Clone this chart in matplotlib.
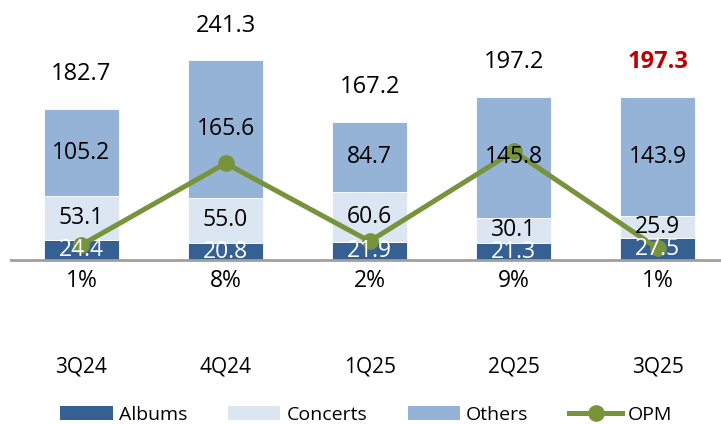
import matplotlib
matplotlib.use("Agg")
import matplotlib.pyplot as plt
from matplotlib.patches import Patch
from matplotlib.lines import Line2D

plt.rcParams['font.family'] = ['Open Sans', 'DejaVu Sans']

quarters = ["3Q24", "4Q24", "1Q25", "2Q25", "3Q25"]
albums = [24.4, 20.8, 21.9, 21.3, 27.5]
concerts = [53.1, 55.0, 60.6, 30.1, 25.9]
others = [105.2, 165.6, 84.7, 145.8, 143.9]
totals = [182.7, 241.3, 167.2, 197.2, 197.3]
opm = [1.3, 8.1, 1.6, 9.1, 1.0]  # operating margin, %

c_albums = "#376092"
c_concerts = "#DCE6F2"
c_others = "#95B3D7"
c_opm = "#77933C"

fig = plt.figure(figsize=(7.21, 4.24), dpi=100)
ax = fig.add_axes([10 / 721, 74 / 424, 711 / 721, 350 / 424])
ax2 = ax.twinx()

x = list(range(len(quarters)))
w = 0.52
bottom2 = [a + c for a, c in zip(albums, concerts)]
ax.bar(x, albums, w, color=c_albums, edgecolor="white", linewidth=0.6)
ax.bar(x, concerts, w, bottom=albums, color=c_concerts, edgecolor="white", linewidth=0.6)
ax.bar(x, others, w, bottom=bottom2, color=c_others, edgecolor="white", linewidth=0.6)

ax.set_xlim(-0.496, 4.438)
ax.set_ylim(-108, 314.2)
ax2.set_ylim(-7.46, 21.71)

ax.axhline(0, color="#A0A0A0", linewidth=2, zorder=3)

ax2.plot(x, opm, color=c_opm, linewidth=3.6, marker="o", markersize=11,
         solid_joinstyle="miter", zorder=4)

# segment values, drawn over the OPM line
for i in x:
    ax2.text(i, albums[i] / 2, f"{albums[i]:.1f}", transform=ax.transData,
             ha="center", va="center", fontsize=16.5, color="white", zorder=6)
    ax2.text(i, albums[i] + concerts[i] / 2, f"{concerts[i]:.1f}", transform=ax.transData,
             ha="center", va="center", fontsize=16.5, color="black", zorder=6)
    ax2.text(i, bottom2[i] + others[i] / 2, f"{others[i]:.1f}", transform=ax.transData,
             ha="center", va="center", fontsize=16.5, color="black", zorder=6)
    last = i == len(quarters) - 1
    ax2.annotate(f"{totals[i]:.1f}", (i, totals[i]), xycoords=ax.transData,
                 xytext=(0, 25), textcoords="offset points",
                 ha="center", va="center", fontsize=17,
                 color="#C00000" if last else "black",
                 fontweight="bold" if last else "normal")
    ax2.text(i, -25, f"{opm[i]:.0f}%", transform=ax.transData,
             ha="center", va="center", fontsize=16.5, color="black")

for a in (ax, ax2):
    for s in a.spines.values():
        s.set_visible(False)
    a.set_yticks([])
ax.set_xticks(x, quarters)
ax.tick_params(axis="x", length=0, pad=5, labelsize=15)

handles = [
    Patch(facecolor=c_albums, label="Albums"),
    Patch(facecolor=c_concerts, label="Concerts"),
    Patch(facecolor=c_others, label="Others"),
    Line2D([], [], color=c_opm, linewidth=3.6, marker="o", markersize=11, label="OPM"),
]
fig.legend(handles=handles, loc="center", bbox_to_anchor=(0.508, 0.021), ncol=4,
           frameon=False, fontsize=14, handlelength=2.7, handleheight=0.7,
           handletextpad=0.3, columnspacing=2.1, borderpad=0)

fig.savefig("out.png", dpi=100)
